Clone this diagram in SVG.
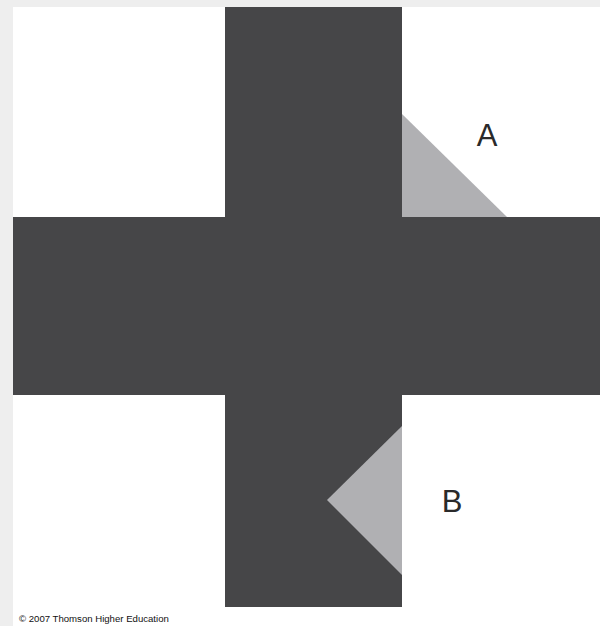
<svg xmlns="http://www.w3.org/2000/svg" width="600" height="626" viewBox="0 0 600 626">
<style>
.cross{fill:#464648}
.tri{fill:#b0b0b3}
.lbl{font-family:"Liberation Sans",Arial,sans-serif;font-size:31px;font-weight:300;fill:#2a2a2a}
.copy{font-family:"Liberation Sans",Arial,sans-serif;font-size:9.6px;fill:#111}
</style>
<rect x="0" y="0" width="600" height="626" fill="#eeeeee"/>
<rect x="13" y="7" width="587" height="619" fill="#ffffff"/>
<g id="cross">
<rect class="cross" x="225" y="7" width="177" height="600"/>
<rect class="cross" x="13" y="217" width="587" height="178"/>
</g>
<g id="triangleA">
<polygon class="tri" points="402,114 402,217 507,217"/>
<text class="lbl" x="487" y="146" text-anchor="middle">A</text>
</g>
<g id="triangleB">
<polygon class="tri" points="402,426 327,500 402,575"/>
<text class="lbl" x="452" y="512" text-anchor="middle">B</text>
</g>
<text class="copy" x="19" y="622">© 2007 Thomson Higher Education</text>
</svg>
